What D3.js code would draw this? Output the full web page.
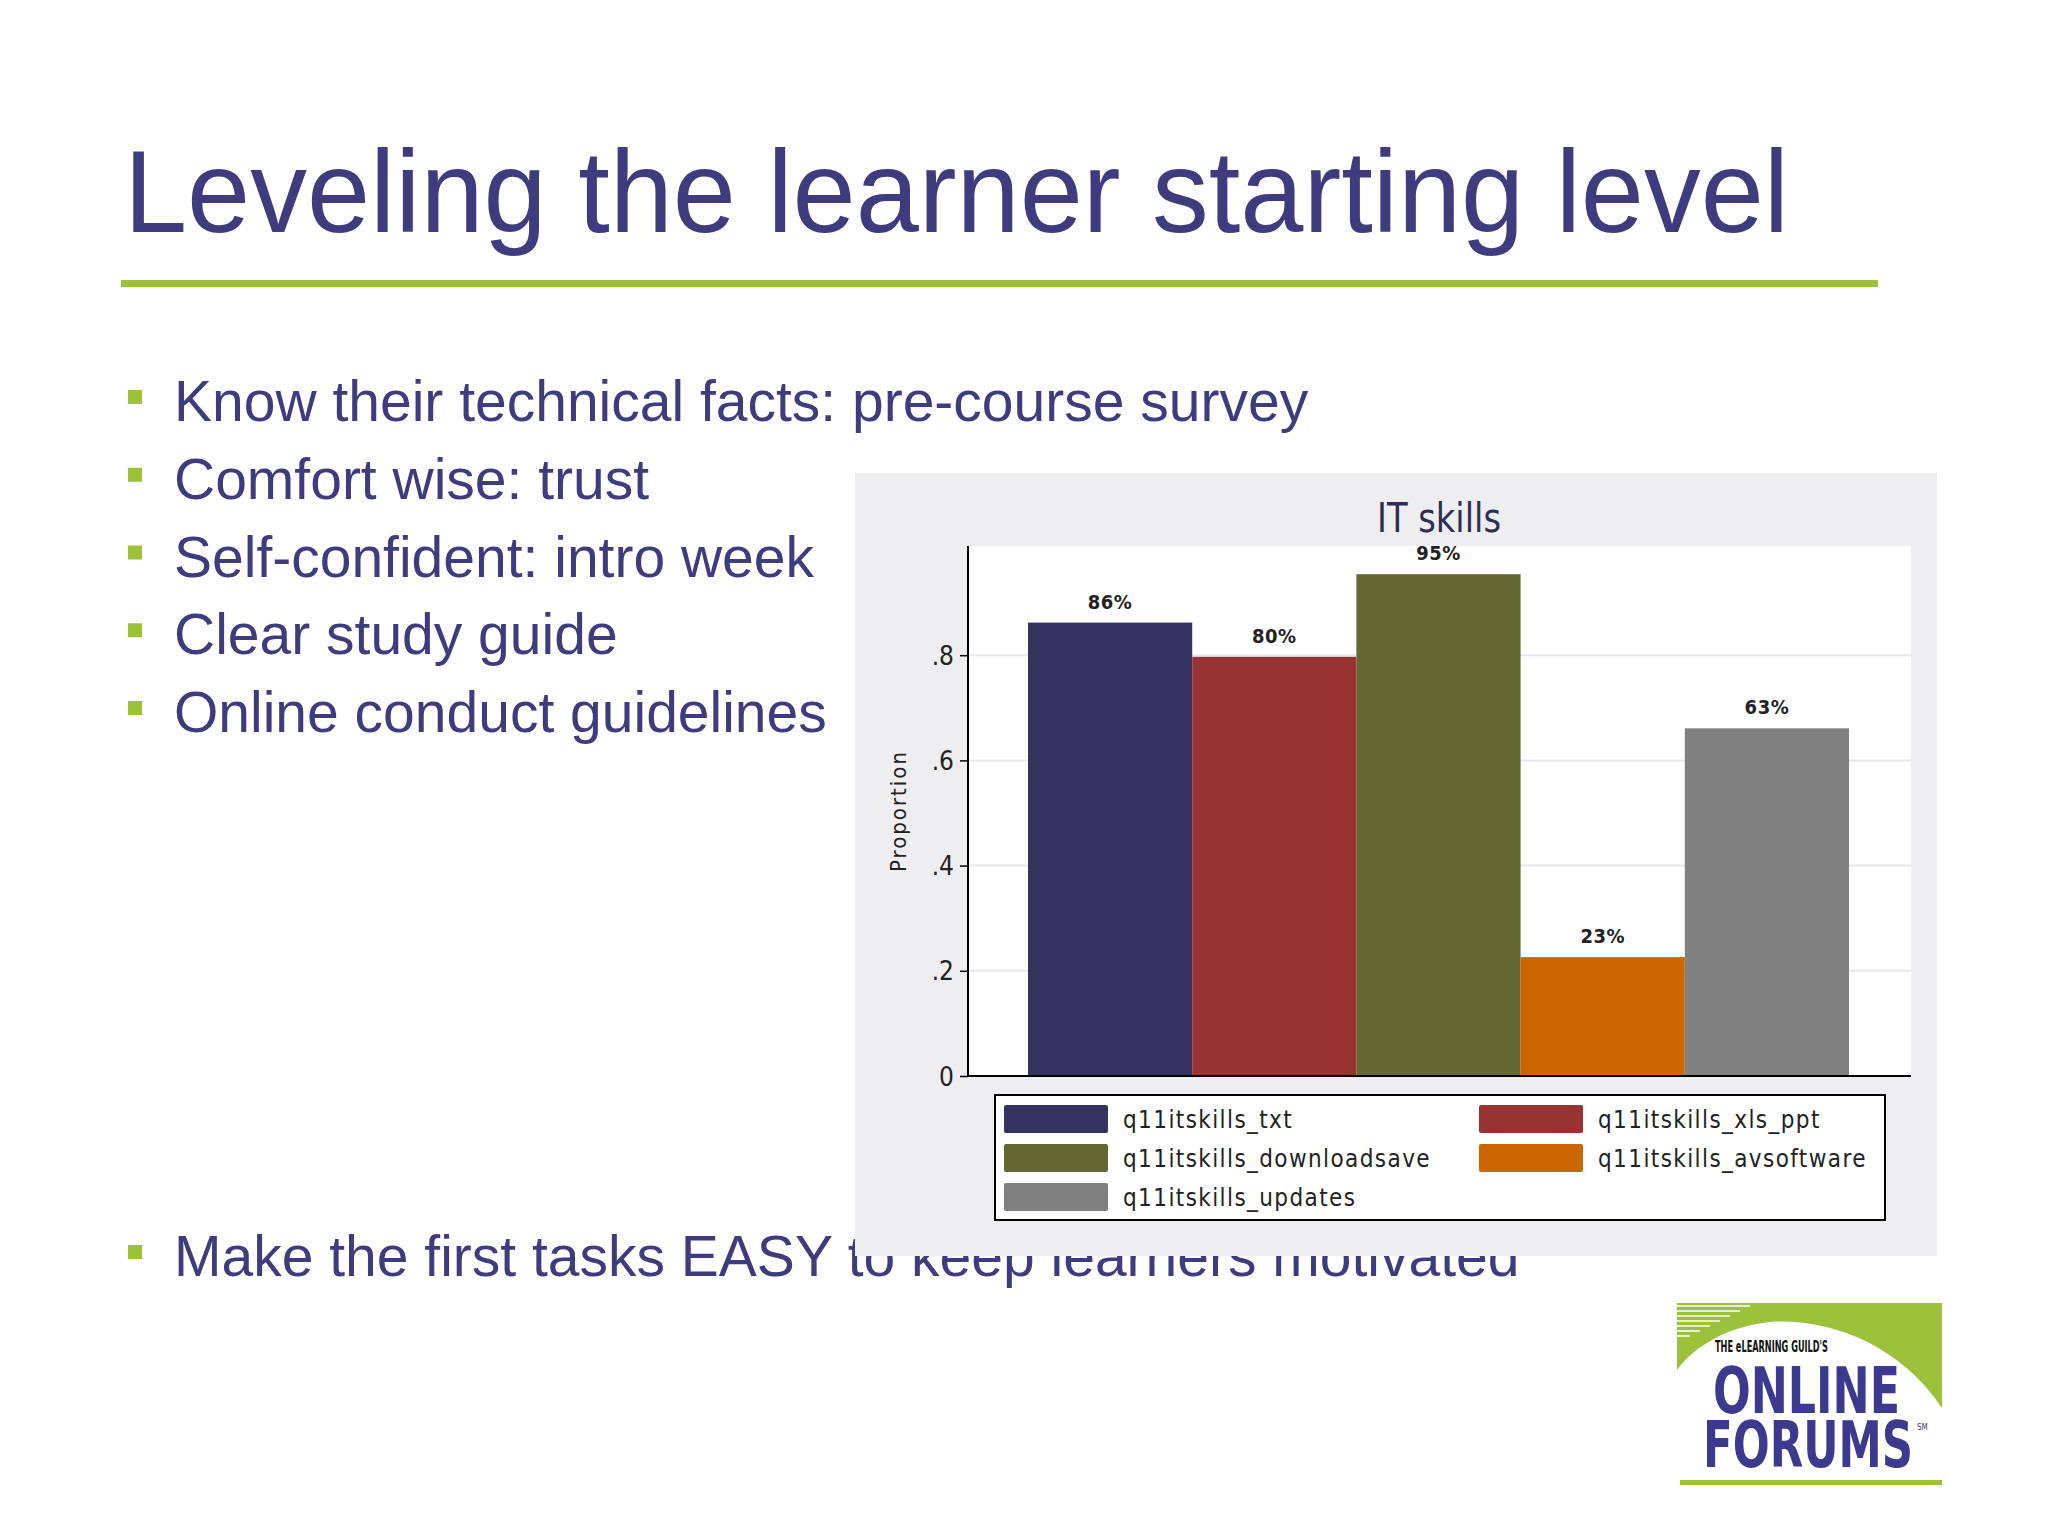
<!DOCTYPE html>
<html><head><meta charset="utf-8">
<script src="https://cdn.jsdelivr.net/npm/d3@7"></script>
<style>body{margin:0;background:#fff}svg{display:block}</style>
</head><body>
<script>
// ---- data ----
const categories = ["q11itskills_txt","q11itskills_xls_ppt","q11itskills_downloadsave","q11itskills_avsoftware","q11itskills_updates"];
const proportions = [0.862, 0.797, 0.954, 0.226, 0.661];
const valueLabels = ["86%","80%","95%","23%","63%"];
const barColors = ["#34335f","#983333","#656832","#cc6600","#808080"];
const yTickValues = [0, 0.2, 0.4, 0.6, 0.8];
const yTickLabels = ["0",".2",".4",".6",".8"];
const chartTitle = "IT skills";
const yAxisTitle = "Proportion";
const slideTitle = "Leveling the learner starting level";
const bulletTexts = ["Know their technical facts: pre-course survey","Comfort wise: trust","Self-confident: intro week","Clear study guide","Online conduct guidelines"];
const lastBullet = "Make the first tasks EASY to keep learners motivated";

const W = 2048, H = 1536;
const svg = d3.select("body").append("svg").attr("width", W).attr("height", H);
svg.append("rect").attr("width", W).attr("height", H).attr("fill", "#fff");

const purple = "#3f3b7f", green = "#9cc23b";
const narrow = "'Liberation Sans Narrow','DejaVu Sans Condensed','Arial Narrow',sans-serif";

// ---- slide title ----
svg.append("text").attr("x", 124).attr("y", 232).attr("fill", purple)
  .attr("font-family", "'Liberation Sans',Arial,sans-serif").attr("font-size", 116)
  .attr("textLength", 1665).attr("lengthAdjust", "spacingAndGlyphs").text(slideTitle);
svg.append("rect").attr("x", 121).attr("y", 280).attr("width", 1757).attr("height", 7).attr("fill", green);

// ---- bullets ----
const bulletY = d3.scalePoint().domain(d3.range(bulletTexts.length)).range([421, 732]);
bulletTexts.forEach((t, i) => {
  const y = bulletY(i);
  svg.append("rect").attr("x", 128).attr("y", y - 31).attr("width", 14).attr("height", 14).attr("fill", green);
  svg.append("text").attr("x", 174).attr("y", y).attr("fill", purple)
    .attr("font-family", "'Liberation Sans',Arial,sans-serif").attr("font-size", 57).text(t);
});
svg.append("rect").attr("x", 128).attr("y", 1276 - 31).attr("width", 14).attr("height", 14).attr("fill", green);
svg.append("text").attr("x", 174).attr("y", 1276).attr("fill", purple)
  .attr("font-family", "'Liberation Sans',Arial,sans-serif").attr("font-size", 57).text(lastBullet);

// ---- chart panel ----
const panel = {x: 855, y: 473, w: 1082, h: 783};
svg.append("rect").attr("x", panel.x).attr("y", panel.y).attr("width", panel.w).attr("height", panel.h).attr("fill", "#eeeef1");

const plot = {left: 968, right: 1911, top: 546, bottom: 1076};
svg.append("rect").attr("x", plot.left).attr("y", plot.top).attr("width", plot.right - plot.left).attr("height", plot.bottom - plot.top).attr("fill", "#fff");

const y = d3.scaleLinear().domain([0, 1]).range([plot.bottom, 550]);
const x = d3.scaleBand().domain(categories).range([1028, 1849]).padding(0);

// gridlines
svg.append("g").selectAll("line").data(yTickValues.filter(v => v > 0)).join("line")
  .attr("x1", plot.left).attr("x2", plot.right)
  .attr("y1", d => y(d)).attr("y2", d => y(d))
  .attr("stroke", "#e7e7ef").attr("stroke-width", 2);

// title
svg.append("text").attr("x", 1439).attr("y", 532).attr("text-anchor", "middle")
  .attr("fill", "#2f2f50").attr("font-family", narrow).attr("font-size", 40)
  .attr("textLength", 124).attr("lengthAdjust", "spacingAndGlyphs").text(chartTitle);

// bars
svg.append("g").selectAll("rect").data(categories).join("rect")
  .attr("x", d => x(d)).attr("width", x.bandwidth())
  .attr("y", (d, i) => y(proportions[i]))
  .attr("height", (d, i) => y(0) - y(proportions[i]))
  .attr("fill", (d, i) => barColors[i]);

// value labels
svg.append("g").selectAll("text").data(categories).join("text")
  .attr("x", d => x(d) + x.bandwidth() / 2)
  .attr("y", (d, i) => y(proportions[i]) - 14)
  .attr("text-anchor", "middle").attr("fill", "#222")
  .attr("font-family", narrow).attr("font-size", 20).attr("font-weight", "bold")
  .attr("letter-spacing", 0.5)
  .text((d, i) => valueLabels[i]);

// y axis
const yAxis = d3.axisLeft(y).tickValues(yTickValues).tickFormat((d, i) => yTickLabels[i]).tickSize(8).tickPadding(6);
const gy = svg.append("g").attr("transform", `translate(${plot.left},0)`).call(yAxis);
gy.select(".domain").remove();
gy.selectAll(".tick line").attr("stroke", "#000").attr("stroke-width", 1.5);
gy.selectAll(".tick text").attr("font-family", narrow).attr("font-size", 26).attr("fill", "#222").attr("dy", "0.35em");
svg.append("line").attr("x1", plot.left).attr("x2", plot.left).attr("y1", plot.top).attr("y2", plot.bottom + 1)
  .attr("stroke", "#000").attr("stroke-width", 2);
svg.append("line").attr("x1", plot.left).attr("x2", plot.right).attr("y1", plot.bottom).attr("y2", plot.bottom)
  .attr("stroke", "#000").attr("stroke-width", 2);

// y title
svg.append("text").attr("transform", `translate(906,811) rotate(-90)`).attr("text-anchor", "middle")
  .attr("fill", "#222").attr("font-family", narrow).attr("font-size", 22).attr("letter-spacing", 2)
  .text(yAxisTitle);

// legend
const leg = {x: 995, y: 1095, w: 890, h: 125};
svg.append("rect").attr("x", leg.x).attr("y", leg.y).attr("width", leg.w).attr("height", leg.h)
  .attr("fill", "#fff").attr("stroke", "#000").attr("stroke-width", 2);
const legCol = d3.scalePoint().domain([0, 1]).range([1004, 1479]);
const legRow = d3.scalePoint().domain([0, 1, 2]).range([1119, 1197]);
const li = svg.append("g").selectAll("g").data(categories).join("g")
  .attr("transform", (d, i) => `translate(${legCol(i % 2)},${legRow(Math.floor(i / 2))})`);
li.append("rect").attr("x", 0).attr("y", -14).attr("width", 104).attr("height", 28).attr("rx", 2)
  .attr("fill", (d, i) => barColors[i]);
li.append("text").attr("x", 119).attr("y", 9).attr("fill", "#222")
  .attr("font-family", narrow).attr("font-size", 24).attr("letter-spacing", 1.4)
  .text(d => d);

// ---- logo ----
const logo = svg.append("g");
logo.append("path")
  .attr("d", "M1677,1303 L1942,1303 L1942,1408 C1900,1345 1830,1318 1770,1322 C1730,1326 1695,1345 1677,1370 Z")
  .attr("fill", green);
[0,1,2,3,4,5,6].forEach(k => {
  logo.append("line").attr("x1", 1677).attr("x2", 1750 - k * 10)
    .attr("y1", 1306 + k * 5).attr("y2", 1306 + k * 5).attr("stroke", "#fff").attr("stroke-width", 1.6);
});
logo.append("rect").attr("x", 1680).attr("y", 1480).attr("width", 262).attr("height", 5).attr("fill", green);
logo.append("text").attr("x", 1715).attr("y", 1352).attr("fill", "#111")
  .attr("font-family", narrow).attr("font-size", 15).attr("font-weight", "bold")
  .attr("textLength", 113).attr("lengthAdjust", "spacingAndGlyphs").text("THE eLEARNING GUILD'S");
logo.append("text").attr("x", 1713).attr("y", 1413).attr("fill", "#3c3a8e")
  .attr("font-family", narrow).attr("font-size", 64).attr("font-weight", "bold")
  .attr("textLength", 187).attr("lengthAdjust", "spacingAndGlyphs").text("ONLINE");
logo.append("text").attr("x", 1703).attr("y", 1467).attr("fill", "#3c3a8e")
  .attr("font-family", narrow).attr("font-size", 64).attr("font-weight", "bold")
  .attr("textLength", 210).attr("lengthAdjust", "spacingAndGlyphs").text("FORUMS");
logo.append("text").attr("x", 1917).attr("y", 1430).attr("fill", "#3c3a8e")
  .attr("font-family", narrow).attr("font-size", 8).text("SM");
</script>
</body></html>
